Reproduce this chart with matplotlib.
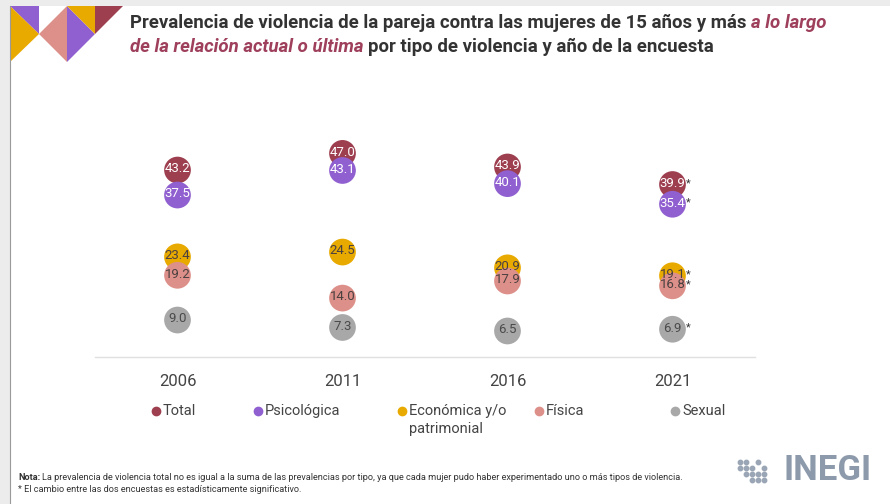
import matplotlib
matplotlib.use('Agg')
import matplotlib.pyplot as plt
from matplotlib.patches import Rectangle, Polygon
from matplotlib.lines import Line2D

plt.rcParams['font.family'] = ['Roboto', 'DejaVu Sans']

# data
years = ['2006', '2011', '2016', '2021']
series = ['Total', 'Psicológica', 'Económica y/o\npatrimonial', 'Física', 'Sexual']
total = [43.2, 47.0, 43.9, 39.9]
psicologica = [37.5, 43.1, 40.1, 35.4]
economica = [23.4, 24.5, 20.9, 19.1]
fisica = [19.2, 14.0, 17.9, 16.8]
sexual = [9.0, 7.3, 6.5, 6.9]
significant = [False, False, False, True]  # 2021 vs 2016

colors = ['#9e3f50', '#9060d0', '#e9aa00', '#dd9089', '#a8a8a8']
text_colors = ['white', 'white', '#4a4040', '#4a4040', '#4a4a4a']
values = [total, psicologica, economica, fisica, sexual]

W, H = 890, 504
fig = plt.figure(figsize=(W / 100, H / 100), dpi=100)
fig.patch.set_facecolor('#ececec')


def fx(px):
    return px / W


def fy(py):
    return 1 - py / H


# white slide area
fig.patches.append(Rectangle((fx(10), 0), fx(880), fy(6), transform=fig.transFigure,
                             facecolor='white', edgecolor='none', zorder=-5))
fig.add_artist(Line2D([fx(10), fx(10)], [0, fy(6)], color='#9a9a9a', lw=0.8))

# corner decoration
deco = [
    ([(10, 6), (39, 6), (39, 34)], '#9060d0'),
    ([(10, 6), (39, 34), (10, 62)], '#e9aa00'),
    ([(39, 34), (67, 6), (67, 62)], '#dd9089'),
    ([(67, 6), (67, 62), (95, 34)], '#9060d0'),
    ([(67, 6), (95, 6), (95, 34)], '#e9aa00'),
    ([(95, 6), (123, 6), (95, 34)], '#9e3f50'),
]
for pts, c in deco:
    fig.patches.append(Polygon([(fx(a), fy(b)) for a, b in pts], closed=True,
                               transform=fig.transFigure, facecolor=c, edgecolor='none'))

# title with mixed styles
fig.canvas.draw()
renderer = fig.canvas.get_renderer()
title_size = 13.4


def piece(x, y, s, **kw):
    t = fig.text(x, y, s, fontsize=title_size, va='baseline', ha='left', **kw)
    bb = t.get_window_extent(renderer=renderer)
    return fx(bb.x1)


dark = '#333333'
maroon = '#9e3f5c'
x = piece(fx(130), fy(28), 'Prevalencia de violencia de la pareja contra las mujeres de 15 años y más ',
          color=dark, fontweight='bold')
piece(x, fy(28), 'a lo largo', color=maroon, fontstyle='italic', fontweight='bold')
x = piece(fx(130), fy(52), 'de la relación actual o última ', color=maroon, fontstyle='italic',
          fontweight='bold')
piece(x, fy(52), 'por tipo de violencia y año de la encuesta', color=dark, fontweight='bold')

# chart
ax = fig.add_axes([fx(95), fy(357), fx(660), 217 / H])
ax.set_xlim(-0.5, 3.5)
ax.set_ylim(0.57, 50.05)
for sp in ['top', 'right', 'left']:
    ax.spines[sp].set_visible(False)
ax.spines['bottom'].set_color('#e0e0e0')
ax.spines['bottom'].set_linewidth(1)
ax.set_yticks([])
ax.set_xticks(range(len(years)))
ax.set_xticklabels(years, fontsize=12, color='#444444')
ax.tick_params(axis='x', length=0, pad=12)
ax.patch.set_alpha(0)

xs = list(range(len(years)))
for i, (vals, c, tc) in enumerate(zip(values, colors, text_colors)):
    ax.scatter(xs, vals, s=370, color=c, edgecolors='none', zorder=2 + i, clip_on=False)
    for j, v in enumerate(vals):
        ax.annotate(f'{v:.1f}', (xs[j], v), xytext=(0, 0.8), textcoords='offset points',
                    ha='center', va='center', fontsize=9.5, color=tc, zorder=20)
        if significant[j]:
            ax.annotate('*', (xs[j], v), xytext=(9.5, 1), textcoords='offset points',
                        ha='left', va='center', fontsize=8, color='#333333', zorder=20)

# legend
leg_x = [156, 258, 402, 539, 675]
for px, name, c in zip(leg_x, series, colors):
    fig.add_artist(Line2D([fx(px)], [fy(411)], marker='o', markersize=6, color=c, lw=0))
    fig.text(fx(px + 7), fy(411), name.split('\n')[0], fontsize=10.5, color='#444444',
             va='center', ha='left')
    if '\n' in name:
        fig.text(fx(px + 7), fy(429), name.split('\n')[1], fontsize=10.5, color='#444444',
                 va='center', ha='left')

# notes
note_size = 6.6
t = fig.text(fx(18), fy(480), 'Nota:', fontsize=note_size, fontweight='bold', color='#333333',
             va='baseline')
bb = t.get_window_extent(renderer=renderer)
fig.text(fx(bb.x1 + 2), fy(480),
         'La prevalencia de violencia total no es igual a la suma de las prevalencias por tipo, '
         'ya que cada mujer pudo haber experimentado uno o más tipos de violencia.',
         fontsize=note_size, color='#333333', va='baseline')
fig.text(fx(18), fy(492), '* El cambio entre las dos encuestas es estadísticamente significativo.',
         fontsize=note_size, color='#333333', va='baseline')

# INEGI logo
fig.text(fx(783), fy(471), 'INEGI', fontsize=25, fontweight='bold', color='#8d9aab',
         va='center', ha='left')
dot_cols = [(740, [462, 468]), (746, [462, 468, 474]), (752, [468, 474, 480]),
            (758, [462, 474, 480]), (764, [468, 474, 480])]
for dx, dys in dot_cols:
    for dy in dys:
        fig.add_artist(Line2D([fx(dx)], [fy(dy)], marker='o', markersize=3.2,
                              color='#9aa6b5', lw=0))

fig.savefig('out.png', dpi=100, facecolor=fig.get_facecolor())
